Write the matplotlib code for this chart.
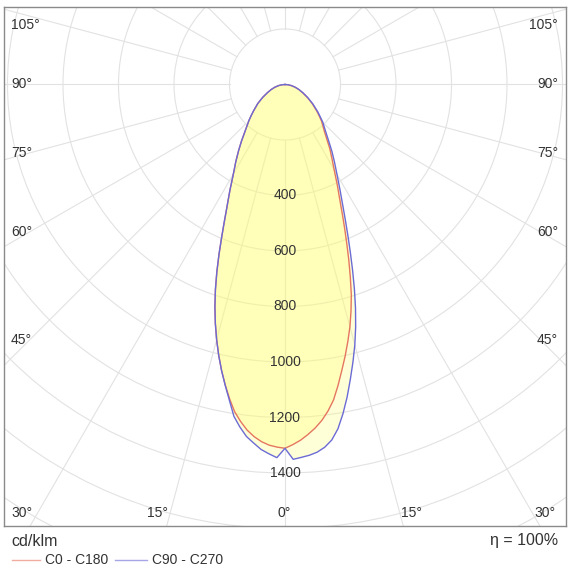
import numpy as np
import matplotlib
matplotlib.use('Agg')
import matplotlib.pyplot as plt
from matplotlib.patches import Circle
from matplotlib.lines import Line2D

plt.rcParams['font.family'] = ['Liberation Sans', 'DejaVu Sans']

# ---- data (cd/klm) ----
gamma = [0, 1.25, 2.5, 3.75, 5, 6.25, 7.5, 8.75, 10, 11.25, 12.5, 13.75, 15, 16.25, 17.5,
         18.75, 20, 21.25, 22.5, 23.75, 25, 27.5, 30, 32.5, 35, 37.5, 40, 42.5, 45, 47.5,
         50, 55, 60, 65, 70, 75, 80, 85, 90]
c0   = [1311, 1298, 1283, 1264, 1243, 1218, 1187, 1150, 1101, 1050, 1002, 953, 904, 850, 795,
        732, 672, 614, 562, 515, 473, 408, 354, 314, 281, 247, 221, 202, 186, 167,
        150, 120, 93, 70, 53, 38, 24, 12, 0]
c180 = [1311, 1307, 1301, 1290, 1274, 1253, 1225, 1193, 1150, 1104, 1056, 1005, 952, 897, 840,
        780, 718, 656, 597, 545, 500, 430, 372, 330, 292, 258, 227, 203, 184, 165,
        148, 120, 93, 70, 53, 38, 24, 12, 0]
c90  = [1311, 1351, 1345, 1339, 1330, 1315, 1292, 1255, 1204, 1148, 1088, 1030, 972, 910, 845,
        778, 712, 650, 594, 544, 500, 430, 375, 332, 295, 260, 232, 210, 193, 172,
        155, 123, 95, 72, 54, 38, 24, 12, 0]
c270 = [1311, 1345, 1332, 1318, 1297, 1276, 1245, 1210, 1155, 1105, 1056, 1005, 952, 897, 840,
        780, 718, 656, 597, 545, 500, 430, 372, 330, 292, 258, 227, 203, 184, 165,
        148, 120, 93, 70, 53, 38, 24, 12, 0]

ring_values = [200, 400, 600, 800, 1000, 1200, 1400, 1600, 1800, 2000]
ring_labels = [400, 600, 800, 1000, 1200, 1400]
spoke_angles = list(range(0, 360, 15))

side_labels = ['105°', '90°', '75°', '60°', '45°']
bottom_labels = ['30°', '15°', '0°', '15°', '30°']

RED = '#e5765f'
BLUE = '#6b6bd6'
GRID = '#e2e2e2'
TXT = '#333333'

W = H = 570
S = 0.2775          # px per cd/klm
CX, CY = 285, 84.5  # pole position in px
FL, FR, FT, FB = 4, 566, 7, 526  # frame in px

fig = plt.figure(figsize=(5.7, 5.7), dpi=100)
ax = fig.add_axes([FL / W, (H - FB) / H, (FR - FL) / W, (FB - FT) / H])
ax.set_xlim((FL - CX) / S, (FR - CX) / S)
ax.set_ylim((CY - FB) / S, (CY - FT) / S)
ax.set_xticks([]); ax.set_yticks([])
for sp in ax.spines.values():
    sp.set_color('#8a8a8a'); sp.set_linewidth(1.0)

def to_data(xp, yp):
    return (xp - CX) / S, (CY - yp) / S

# grid
for r in ring_values:
    ax.add_patch(Circle((0, 0), r, fill=False, ec=GRID, lw=0.8, zorder=1))
for a in spoke_angles:
    t = np.radians(a)
    ax.plot([200 * np.sin(t), 3000 * np.sin(t)], [-200 * np.cos(t), -3000 * np.cos(t)],
            color=GRID, lw=0.8, zorder=1)

def curve(right, left):
    g = np.radians(np.array(gamma, float))
    r_r = np.array(right, float); r_l = np.array(left, float)
    xl = -r_l[::-1] * np.sin(g[::-1]); yl = -r_l[::-1] * np.cos(g[::-1])
    xr = r_r[1:] * np.sin(g[1:]); yr = -r_r[1:] * np.cos(g[1:])
    return np.concatenate([xl, xr]), np.concatenate([yl, yr])

xb, yb = curve(c90, c270)
xr, yr = curve(c0, c180)
ax.fill(xb, yb, color='#ffff70', alpha=0.28, lw=0, zorder=2)
ax.fill(xr, yr, color='#ffff70', alpha=0.28, lw=0, zorder=2)
ax.plot(xr, yr, color=RED, lw=1.0, zorder=3)
ax.plot(xb, yb, color=BLUE, lw=1.0, zorder=3)

for r in ring_labels:
    ax.text(0, -r, str(r), ha='center', va='center', fontsize=10, color=TXT, zorder=4)

side_y = [25, 84, 153, 232, 340]
for lab, yp in zip(side_labels, side_y):
    x1, y1 = to_data(11, yp)
    ax.text(x1, y1, lab, ha='left', va='center', fontsize=10, color=TXT, zorder=4)
    x2, y2 = to_data(558, yp)
    ax.text(x2, y2, lab, ha='right', va='center', fontsize=10, color=TXT, zorder=4)

bottom_x = [22, 157, 284, 411, 545]
for lab, xp in zip(bottom_labels, bottom_x):
    x1, y1 = to_data(xp, 513)
    ax.text(x1, y1, lab, ha='center', va='center', fontsize=10, color=TXT, zorder=4)

# footer
fig.text(11 / W, 1 - 542 / H, 'cd/klm', ha='left', va='center', fontsize=11.5, color=TXT)
fig.text(558 / W, 1 - 541 / H, 'η = 100%', ha='right', va='center', fontsize=11.5, color=TXT)
fig.add_artist(Line2D([12 / W, 40 / W], [1 - 560 / H] * 2, color=RED, lw=1.0, alpha=0.6))
fig.text(45 / W, 1 - 560 / H, 'C0 - C180', ha='left', va='center', fontsize=10, color=TXT)
fig.add_artist(Line2D([115 / W, 147 / W], [1 - 560 / H] * 2, color=BLUE, lw=1.0, alpha=0.6))
fig.text(152 / W, 1 - 560 / H, 'C90 - C270', ha='left', va='center', fontsize=10, color=TXT)

fig.savefig('out.png', dpi=100, facecolor='white')
